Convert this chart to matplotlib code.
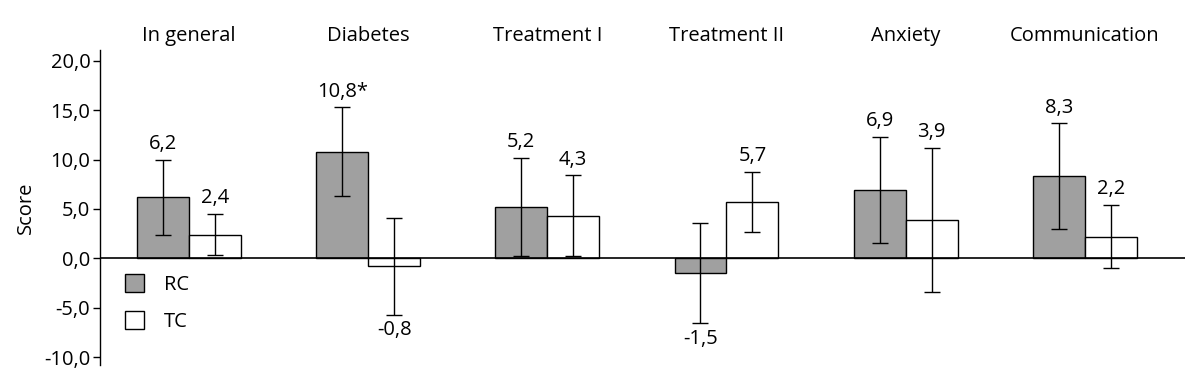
import numpy as np
import matplotlib.pyplot as plt

categories = ['In general', 'Diabetes', 'Treatment I', 'Treatment II', 'Anxiety', 'Communication']
rc_values = [6.2, 10.8, 5.2, -1.5, 6.9, 8.3]
tc_values = [2.4, -0.8, 4.3, 5.7, 3.9, 2.2]
rc_err = [3.8, 4.5, 5.0, 5.05, 5.4, 5.35]
tc_err = [2.1, 4.9, 4.1, 3.05, 7.3, 3.2]
rc_labels = ['6,2', '10,8*', '5,2', '-1,5', '6,9', '8,3']
tc_labels = ['2,4', '-0,8', '4,3', '5,7', '3,9', '2,2']
yticks = [20, 15, 10, 5, 0, -5, -10]

plt.rcParams['font.family'] = ['Open Sans', 'DejaVu Sans']
fs = 14.5

fig = plt.figure(figsize=(12.01, 3.76), dpi=100)
ax = fig.add_axes([0.0833, 0.0293, 0.9034, 0.838])

x = np.arange(len(categories))
w = 0.29
ax.bar(x - w / 2, rc_values, w, color='#a0a0a0', edgecolor='black', linewidth=1, label='RC', zorder=2)
ax.bar(x + w / 2, tc_values, w, color='white', edgecolor='black', linewidth=1, label='TC', zorder=2)
ax.errorbar(x - w / 2, rc_values, yerr=rc_err, fmt='none', ecolor='black', elinewidth=1, capsize=6, capthick=1, zorder=3)
ax.errorbar(x + w / 2, tc_values, yerr=tc_err, fmt='none', ecolor='black', elinewidth=1, capsize=6, capthick=1, zorder=3)

# value labels above/below whiskers
for xs, vals, errs, labs in [(x - w / 2, rc_values, rc_err, rc_labels), (x + w / 2, tc_values, tc_err, tc_labels)]:
    for xi, v, e, lab in zip(xs, vals, errs, labs):
        if v >= 0:
            ax.annotate(lab, (xi, v + e), xytext=(0, 4), textcoords='offset points',
                        ha='center', va='bottom', fontsize=fs)
        else:
            ax.annotate(lab, (xi, v - e), xytext=(0, -4), textcoords='offset points',
                        ha='center', va='top', fontsize=fs)

ax.axhline(0, color='black', linewidth=1.2, zorder=4)
ax.set_xlim(-0.497, 5.56)
ax.set_ylim(-10.8, 21.1)
ax.set_yticks(yticks)
ax.set_yticklabels([('%.1f' % t).replace('.', ',') for t in yticks])
ax.tick_params(axis='y', direction='out', length=5, width=1, labelsize=fs, pad=2)
ax.set_ylabel('Score', fontsize=fs, labelpad=6)

ax.xaxis.tick_top()
ax.set_xticks(x)
ax.set_xticklabels(categories, fontsize=fs)
ax.tick_params(axis='x', length=0, pad=3)

for s in ['top', 'right', 'bottom']:
    ax.spines[s].set_visible(False)
ax.spines['left'].set_linewidth(1)

ax.legend(loc='upper left', bbox_to_anchor=(0.006, 0.345), frameon=False, fontsize=fs,
          handlelength=0.95, handleheight=1.0, labelspacing=0.8, handletextpad=1.0)

fig.savefig('out.png', dpi=100)
